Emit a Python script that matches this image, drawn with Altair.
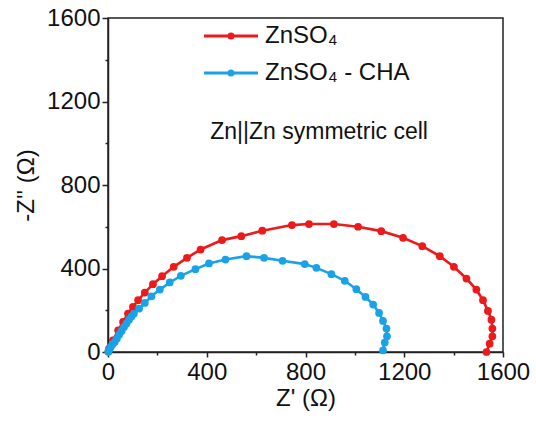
import altair as alt
import pandas as pd

# ---- data ----
series_names = ["ZnSO₄", "ZnSO₄ - CHA"]
series_colors = ["#EC1A1A", "#1AA2E8"]

red_x = [2, 4, 20, 41, 61, 81, 101, 122, 149, 182, 219, 266, 320, 375, 462, 540, 625,
         745, 814, 915, 1013, 1107, 1195, 1273, 1344, 1401, 1452, 1492, 1519, 1539,
         1553, 1557, 1557, 1546, 1533]
red_y = [3, 16, 56, 104, 144, 184, 216, 248, 285, 325, 363, 408, 451, 491, 536, 555, 581,
         608, 613, 613, 600, 579, 547, 507, 459, 408, 352, 299, 248, 197,
         155, 112, 75, 40, 0]

blue_x = [1, 3, 7, 12, 18, 27, 36, 45, 55, 65, 75, 85, 95, 105, 126, 149, 176, 210, 250,
          295, 354, 409, 476, 561, 632, 707, 797, 844, 905, 959, 1006, 1043, 1074,
          1098, 1114, 1128, 1130, 1121, 1114]
blue_y = [1, 6, 16, 26, 37, 48, 65, 83, 101, 120, 137, 155, 170, 184, 208, 235, 267, 299,
          333, 365, 397, 424, 443, 459, 451, 437, 421, 403, 373, 341, 301, 264, 227,
          187, 149, 112, 75, 45, 8]

x_ticks = [0, 200, 400, 600, 800, 1000, 1200, 1400, 1600]
y_ticks = [0, 200, 400, 600, 800, 1000, 1200, 1400, 1600]

annot_text = ["Zn||Zn symmetric cell"]
annot_x = [855]
annot_y = [1056]

# ---- tables ----
rows = []
for i, (x, y) in enumerate(zip(red_x, red_y)):
    rows.append({"series": series_names[0], "zr": x, "zi": y, "idx": i})
for i, (x, y) in enumerate(zip(blue_x, blue_y)):
    rows.append({"series": series_names[1], "zr": x, "zi": y, "idx": i})
df = pd.DataFrame(rows)
annot = pd.DataFrame({"text": annot_text, "x": annot_x, "y": annot_y})

FONT = "Liberation Sans"

color_scale = alt.Scale(domain=series_names, range=series_colors)
major = "datum.value % 400 === 0"

x_axis = alt.Axis(values=x_ticks, format="d", labelExpr=f"{major} ? datum.label : ''",
                  tickSize={"condition": {"test": major, "value": 5}, "value": 3},
                  labelFlush=False, grid=False, title="Z' (Ω)")
y_axis = alt.Axis(values=y_ticks, format="d", labelExpr=f"{major} ? datum.label : ''",
                  tickSize={"condition": {"test": major, "value": 6}, "value": 3},
                  labelFlush=False, grid=False, title="-Z'' (Ω)")

xs = alt.X("zr:Q", scale=alt.Scale(domain=[0, 1600], nice=False), axis=x_axis)
ys = alt.Y("zi:Q", scale=alt.Scale(domain=[0, 1600], nice=False), axis=y_axis)

legend_symbol = "M-2,0H2M0,-0.15A0.15,0.15,0,1,1,0,0.15A0.15,0.15,0,1,1,0,-0.15Z"

base = alt.Chart(df)

lines = base.mark_line(strokeWidth=2.6).encode(
    x=xs, y=ys,
    color=alt.Color(
        "series:N", scale=color_scale,
        legend=alt.Legend(
            title=None, orient="none", legendX=108, legendY=3,
            symbolType=legend_symbol, symbolSize=729, symbolStrokeWidth=3,
            labelFont=FONT, labelFontSize=24, labelColor="#111",
            labelOffset=19, rowPadding=10,
        ),
    ),
    order="idx:Q",
    detail="series:N",
)

points = base.mark_point(filled=True, size=60, opacity=1).encode(
    x=xs, y=ys,
    fill=alt.Fill("series:N", scale=color_scale, legend=None),
)

text = alt.Chart(annot).mark_text(font=FONT, fontSize=23, color="#111").encode(
    x=alt.X("x:Q"), y=alt.Y("y:Q"), text="text:N"
)

chart = alt.layer(lines, points, text).properties(
    width=395, height=334,
    autosize=alt.AutoSizeParams(type="none"),
    padding={"left": 108, "top": 18, "right": 33, "bottom": 71},
    background="white",
).configure_view(
    stroke="#222", strokeWidth=1.5
).configure_axis(
    labelFont=FONT, labelFontSize=24, labelColor="#111",
    titleFont=FONT, titleFontSize=24, titleFontWeight="normal", titleColor="#111",
    domainColor="#222", domainWidth=1.5, tickColor="#222", tickWidth=1.5,
    labelPadding=3,
).configure_axisX(titlePadding=2).configure_axisY(titlePadding=8, labelPadding=2)

chart.save("out.html", embed_options={"renderer": "svg", "actions": False})
